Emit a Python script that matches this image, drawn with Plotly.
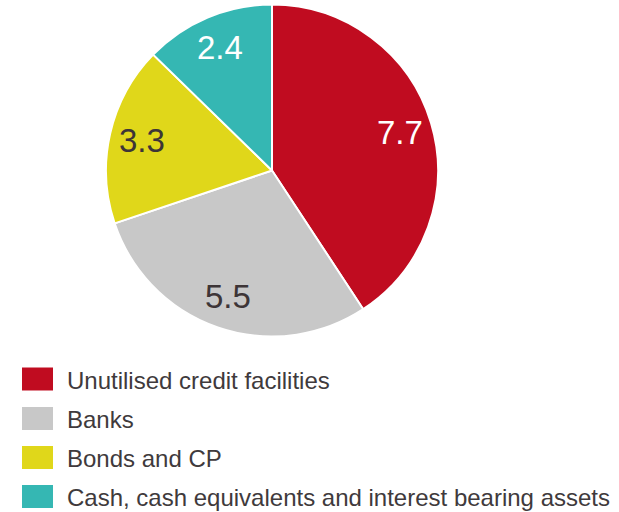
import math
import plotly.graph_objects as go

# Liquidity reserve composition
categories = [
    "Unutilised credit facilities",
    "Banks",
    "Bonds and CP",
    "Cash, cash equivalents and interest bearing assets",
]
values = [7.7, 5.5, 3.3, 2.4]
value_labels = ["7.7", "5.5", "3.3", "2.4"]
colors = ["#C00C20", "#C8C8C8", "#E0D71A", "#35B7B3"]
label_colors = ["#FFFFFF", "#3D3537", "#3D3537", "#FFFFFF"]

W, H = 619, 512
cx, cy, r = 272.0, 170.5, 166.0  # pie centre / radius in pixels
font = "Liberation Sans, Arial, sans-serif"

fig = go.Figure()
fig.add_trace(go.Pie(
    labels=categories,
    values=values,
    sort=False,
    direction="clockwise",
    rotation=0,
    marker=dict(colors=colors, line=dict(color="#FFFFFF", width=2)),
    textinfo="none",
    hoverinfo="label+value",
    showlegend=False,
    domain=dict(x=[(cx - r) / W, (cx + r) / W],
                y=[1 - (cy + r) / H, 1 - (cy - r) / H]),
))

annotations = []
shapes = []

# value labels placed at the middle angle of each slice
total = sum(values)
cum = 0.0
for v, txt, col in zip(values, value_labels, label_colors):
    mid = (cum + v / 2) / total
    cum += v
    ang = math.pi / 2 - 2 * math.pi * mid
    px = cx + 0.805 * r * math.cos(ang)
    py = cy - 0.805 * r * math.sin(ang)
    annotations.append(dict(
        x=px / W, y=1 - py / H, xref="paper", yref="paper",
        text=txt, showarrow=False, xanchor="center", yanchor="middle",
        font=dict(family=font, size=33, color=col),
    ))

# legend drawn as swatches with labels
legend_y = [379, 418.5, 457.5, 496.5]
for name, col, ly in zip(categories, colors, legend_y):
    shapes.append(dict(
        type="rect", xref="paper", yref="paper",
        x0=22 / W, x1=53 / W, y0=1 - (ly + 11.5) / H, y1=1 - (ly - 11.5) / H,
        fillcolor=col, line=dict(width=0),
    ))
    annotations.append(dict(
        x=65 / W, y=1 - (ly + 1) / H, xref="paper", yref="paper",
        text=name, showarrow=False, xanchor="left", yanchor="middle",
        font=dict(family=font, size=24, color="#403A3C"),
    ))

fig.update_layout(
    width=W, height=H,
    margin=dict(l=0, r=0, t=0, b=0),
    paper_bgcolor="#FFFFFF",
    plot_bgcolor="#FFFFFF",
    annotations=annotations,
    shapes=shapes,
)

fig.write_html("out.html")
